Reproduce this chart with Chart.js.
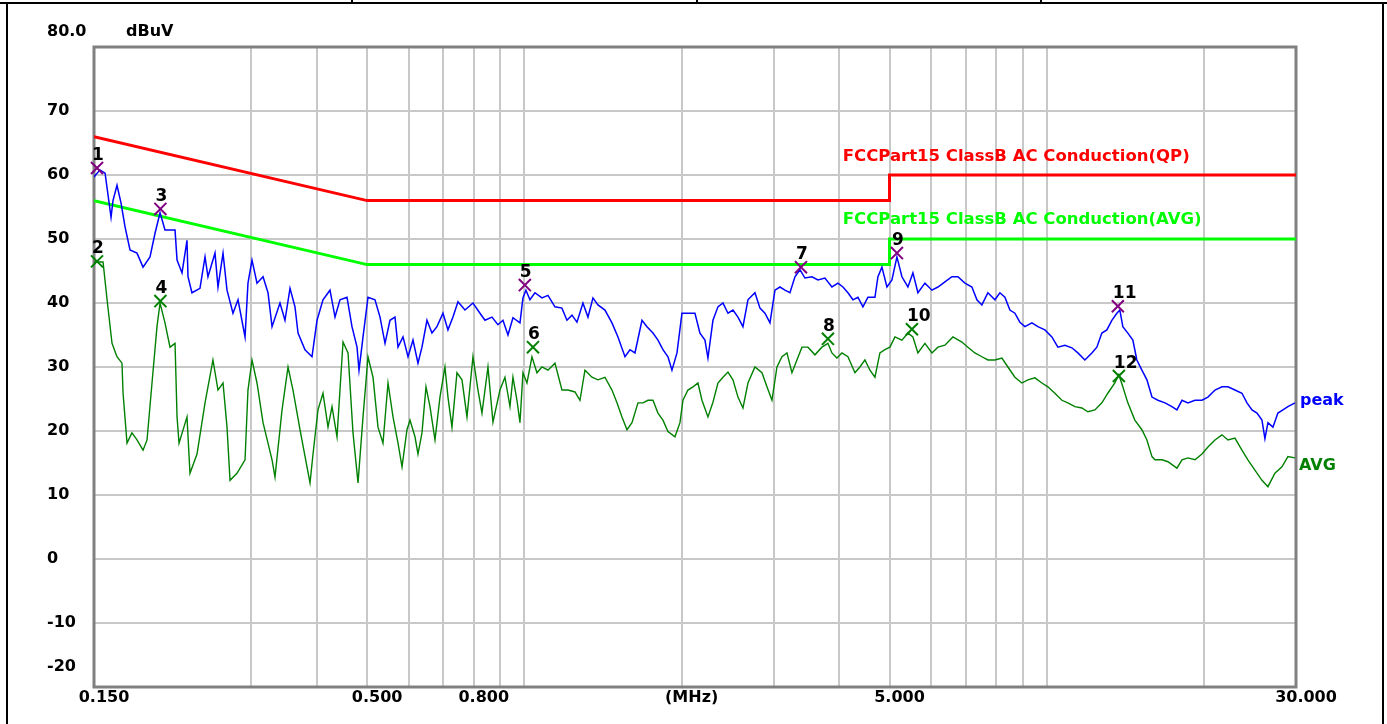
<!DOCTYPE html>
<html><head><meta charset="utf-8">
<script src="https://cdn.jsdelivr.net/npm/chart.js@4.4.1/dist/chart.umd.min.js"></script>
<style>
html,body{margin:0;padding:0;background:#fff;width:1387px;height:724px;overflow:hidden;}
#wrap{position:relative;width:1387px;height:724px;}
canvas{position:absolute;left:0;top:0;}
.ln{position:absolute;background:#000;}
</style></head><body>
<div id="wrap">
<canvas id="c" width="1387" height="724"></canvas>
<div class="ln" style="left:0;top:2px;width:1387px;height:2px"></div>
<div class="ln" style="left:6px;top:2px;width:2px;height:722px"></div>
<div class="ln" style="left:1382px;top:2px;width:2px;height:722px"></div>
<div class="ln" style="left:351px;top:0;width:2px;height:3px"></div>
<div class="ln" style="left:696px;top:0;width:2px;height:3px"></div>
<div class="ln" style="left:1040px;top:0;width:2px;height:3px"></div>
</div>
<script>
// ---------------- data ----------------
const peakFreq = [0.150,0.1540,0.1575,0.1617,0.1631,0.1660,0.1690,0.1720,0.1758,0.1813,
0.1862,0.1920,0.1963,0.2007,0.2051,0.2144,0.2163,0.2211,0.2260,0.2270,
0.2310,0.2393,0.2447,0.2479,0.2557,0.2591,0.2649,0.2696,0.2768,0.2830,
0.2919,0.2957,0.3010,0.3077,0.3160,0.3230,0.3288,0.3405,0.3481,0.3559,
0.3638,0.3687,0.3802,0.3921,0.4009,0.4116,0.4245,0.4340,0.4436,0.4575,
0.4677,0.4782,0.4824,0.4910,0.5019,0.5176,0.5292,0.5410,0.5530,0.5653,
0.5729,0.5856,0.5987,0.6120,0.6256,0.6367,0.6509,0.6654,0.6802,0.6985,
0.7140,0.7299,0.7462,0.7696,0.7972,0.8222,0.8405,0.8668,0.8900,0.9099,
0.9302,0.9509,0.9807,0.9937,1.0069,1.0248,1.0476,1.0805,1.1095,1.1442,
1.1801,1.2064,1.2333,1.2608,1.2945,1.3234,1.3529,1.3830,1.4264,1.4711,
1.5106,1.5580,1.5927,1.6281,1.6792,1.7166,1.7625,1.8018,1.8419,1.8830,
1.9165,1.9593,2.0029,2.0565,2.1209,2.1682,2.2164,2.2459,2.2960,2.3472,
2.3995,2.4530,2.5076,2.5635,2.6207,2.6791,2.7630,2.8247,2.8876,2.9520,
3.0177,3.0849,3.1536,3.2238,3.2956,3.3690,3.4440,3.5519,3.6470,3.7613,
3.8791,3.9831,4.0719,4.1627,4.2554,4.3502,4.4472,4.5464,4.6888,4.7512,
4.8357,4.9433,5.0534,5.1660,5.2811,5.4227,5.5435,5.6669,5.8445,6.0277,
6.1892,6.3831,6.5831,6.7593,6.9712,7.1895,7.3497,7.5133,7.7145,7.9564,
8.1337,8.3150,8.5003,8.6895,8.8830,9.0809,9.3654,9.6162,9.9175,10.228,
10.502,10.831,11.171,11.470,11.829,12.200,12.471,12.749,13.033,13.323,
13.620,13.801,13.984,14.296,14.615,14.875,15.21,15.55,15.90,16.32,
16.84,17.36,17.75,18.15,18.63,19.22,19.82,20.35,20.99,21.65,
22.23,22.92,23.64,24.17,24.71,25.26,25.82,26.16,26.51,27.10,
27.70,28.32,28.95,29.86];
const peakVal = [59.7,60.8,60.3,53.4,56.0,58.4,55.6,51.9,48.3,47.8,
45.6,47.2,50.9,54.1,51.4,51.4,46.7,44.7,49.8,44.1,
41.6,42.3,47.2,44.1,47.8,42.5,47.8,42.0,38.4,40.5,
34.7,43.1,46.7,43.1,44.1,41.6,36.3,40.0,37.3,42.3,
39.4,35.3,32.7,31.6,37.3,40.5,42.0,37.8,40.5,40.9,
36.3,33.1,29.5,34.7,40.9,40.5,37.8,33.7,37.3,37.8,
33.1,34.7,31.6,34.2,30.6,33.1,37.3,35.3,36.3,38.4,
35.8,37.8,40.2,38.9,40.0,38.4,37.3,37.8,36.6,37.3,
35.0,37.7,36.9,40.8,42.0,40.5,41.6,40.8,41.2,39.4,
39.2,37.3,38.1,37.0,40.0,37.8,40.8,39.7,38.9,36.9,
34.7,31.6,32.7,32.2,37.3,36.3,35.3,34.2,32.7,31.6,
29.5,32.2,38.4,38.4,38.4,35.3,34.2,31.4,37.3,39.4,
40.0,38.4,38.9,37.8,36.3,40.5,41.6,39.2,38.4,36.9,
42.0,42.5,42.0,41.6,44.1,45.2,43.9,44.1,43.6,43.9,
42.5,43.1,42.5,41.6,40.5,40.9,39.4,40.9,40.9,44.1,
45.6,42.5,43.6,47.2,44.1,42.5,44.7,41.6,43.1,42.0,
42.5,43.3,44.1,44.1,43.1,42.5,40.5,39.7,41.6,40.5,
41.6,40.9,38.9,38.4,37.0,36.3,36.9,36.3,35.8,34.7,
33.1,33.4,33.0,32.2,31.1,32.2,33.1,35.3,35.8,37.3,
38.4,38.9,36.3,35.3,34.2,31.1,29.5,28.0,25.3,24.8,
24.4,23.8,23.3,24.8,24.4,24.8,24.8,25.3,26.4,26.9,
26.9,26.4,25.9,24.4,23.3,22.8,21.7,18.8,21.3,20.6,
22.8,23.3,23.8,24.4];

const avgFreq = [0.150,0.1561,0.1589,0.1624,0.1660,0.1697,0.1705,0.1735,0.1773,0.1813,
0.1862,0.1895,0.1937,0.1980,0.2007,0.2051,0.2097,0.2144,0.2163,0.2182,
0.2260,0.2290,0.2362,0.2447,0.2534,0.2591,0.2649,0.2696,0.2732,0.2817,
0.2919,0.2957,0.3010,0.3077,0.3160,0.3288,0.3331,0.3436,0.3528,0.3606,
0.3719,0.3887,0.3939,0.4026,0.4116,0.4208,0.4283,0.4378,0.4496,0.4596,
0.4698,0.4803,0.4910,0.5019,0.5131,0.5245,0.5362,0.5482,0.5604,0.5729,
0.5831,0.5960,0.6040,0.6174,0.6256,0.6367,0.6481,0.6596,0.6743,0.6893,
0.7046,0.7140,0.7267,0.7429,0.7595,0.7764,0.7972,0.8150,0.8295,0.8517,
0.8706,0.8979,0.9179,0.9384,0.9509,0.9678,0.9807,0.9937,1.0114,1.0339,
1.0569,1.0805,1.1095,1.1442,1.1801,1.2117,1.2497,1.2776,1.3060,1.3469,
1.3830,1.4264,1.4711,1.5040,1.5375,1.5718,1.6068,1.6498,1.6866,1.7241,
1.7625,1.8018,1.8419,1.8830,1.9419,1.9853,2.0117,2.0565,2.1023,2.1492,
2.1874,2.2459,2.2960,2.3472,2.3995,2.4530,2.5076,2.5635,2.6207,2.6791,
2.7630,2.8497,2.9131,2.9781,3.0444,3.1122,3.1815,3.2523,3.3247,3.3988,
3.4898,3.5991,3.7119,3.8113,3.8791,3.9655,4.0540,4.1627,4.2931,4.3888,
4.4866,4.5867,4.6888,4.7932,4.9000,5.0091,5.1207,5.2811,5.4227,5.5435,
5.6669,5.8445,6.0277,6.1892,6.3831,6.6121,6.8797,7.0639,7.2852,7.5133,
7.7145,7.9564,8.2058,8.4257,8.6895,8.9616,9.2016,9.4899,9.7873,10.050,
10.364,10.689,10.975,11.319,11.674,11.986,12.362,12.749,13.090,13.500,
13.740,13.984,14.296,14.744,15.21,15.55,15.90,16.11,16.62,17.06,
17.75,18.15,18.63,19.22,19.82,20.35,20.99,21.65,22.23,22.92,
23.64,24.27,25.03,25.82,26.51,27.34,28.20,28.95,29.86];
const avgVal = [46.4,46.4,40.5,33.7,31.6,30.6,25.9,18.1,19.7,18.6,
17.0,18.6,27.5,36.3,40.0,36.9,33.1,33.7,22.2,18.1,
22.2,13.4,16.4,24.4,31.1,26.4,27.5,20.6,12.3,13.4,
15.5,26.4,31.1,27.5,21.3,15.5,12.8,23.3,30.0,26.4,
20.2,11.9,16.4,23.3,25.9,20.6,23.8,19.1,33.9,32.2,
19.7,11.9,22.2,31.6,28.4,20.6,18.1,27.5,22.2,18.1,
14.4,20.2,21.7,19.1,16.4,19.7,26.9,23.8,18.6,25.3,
30.0,25.3,20.6,29.1,28.0,22.2,31.6,26.4,22.8,30.0,
21.4,26.4,28.4,23.8,28.4,24.8,21.3,29.1,27.5,31.6,
29.1,30.0,29.5,30.6,26.4,26.4,26.1,24.8,29.5,28.4,
28.0,28.4,26.4,24.4,22.2,20.2,21.3,24.4,24.4,24.8,
24.8,22.8,21.7,19.9,19.1,21.3,24.8,26.4,26.9,27.5,
24.8,22.2,24.5,27.5,28.4,29.2,28.0,25.3,23.6,27.5,
30.0,29.1,26.9,24.8,30.0,31.6,32.2,29.1,31.1,33.1,
33.1,31.9,33.1,33.7,32.2,31.4,32.2,31.6,29.1,30.0,
31.1,29.5,28.4,32.2,32.7,33.1,34.7,34.2,35.3,34.7,
32.2,33.7,32.2,33.1,33.4,34.7,33.9,33.1,32.2,31.6,
31.1,31.1,31.4,30.0,28.4,27.5,28.0,28.3,27.5,26.9,
25.9,24.8,24.4,23.8,23.6,23.0,23.3,24.4,25.9,27.5,
28.8,26.9,24.4,21.7,20.2,18.6,16.0,15.5,15.5,15.2,
14.2,15.5,15.8,15.5,16.4,17.5,18.6,19.4,18.6,18.9,
17.0,15.5,13.9,12.3,11.3,13.4,14.4,16.0,15.8];

const qpLimitFreq = [0.15, 0.5, 5, 5, 30];
const qpLimitVal  = [66, 56, 56, 60, 60];
const avgLimitFreq = [0.15, 0.5, 5, 5, 30];
const avgLimitVal  = [56, 46, 46, 50, 50];

const markerNo   = [1, 2, 3, 4, 5, 6, 7, 8, 9, 10, 11, 12];
const markerFreq = [0.152, 0.152, 0.201, 0.201, 1.002, 1.0385, 3.384, 3.811, 5.166, 5.519, 13.68, 13.74];
const markerVal  = [61.1, 46.5, 54.7, 40.3, 42.8, 33.1, 45.6, 34.4, 47.8, 35.9, 39.5, 28.6];

const xGridVals = [0.3,0.4,0.5,0.6,0.7,0.8,0.9,1,2,3,4,5,6,7,8,9,10,20];
const xLabelVals = [0.15, 0.5, 0.8, 2, 5, 30];
const xLabelTexts = ['0.150', '0.500', '0.800', '(MHz)', '5.000', '30.000'];
const yTickVals = [80, 70, 60, 50, 40, 30, 20, 10, 0, -10, -20];
const yTickTexts = ['80.0', '70', '60', '50', '40', '30', '20', '10', '0', '-10', '-20'];

const limitTexts = ['FCCPart15 ClassB AC Conduction(QP)', 'FCCPart15 ClassB AC Conduction(AVG)'];
const traceNames = ['peak', 'AVG'];
const unitText = 'dBuV';

// --------------- build ---------------
const zip = (xs, ys) => xs.map((x, i) => ({x: x, y: ys[i]}));
const FONT = 'DejaVu Sans';
// edge labels of the y axis sit slightly inside the frame in the original
const yLabelShift = {80: 2.4, '-20': 3.2};
const yTickPositions = yTickVals.map(v => v + (yLabelShift[v] || 0));
const xTickAll = Array.from(new Set([...xLabelVals, ...xGridVals])).sort((a, b) => a - b);

const markerColors = markerNo.map(n => n % 2 ? '#800080' : '#008000');

const framePlugin = {
  id: 'frame',
  beforeDatasetsDraw(chart) {
    const {ctx, chartArea: a} = chart;
    ctx.save();
    ctx.strokeStyle = '#808080';
    ctx.lineWidth = 3;
    ctx.strokeRect(a.left, a.top, a.right - a.left, a.bottom - a.top);
    ctx.restore();
  }
};

const textPlugin = {
  id: 'texts',
  afterDatasetsDraw(chart) {
    const {ctx, chartArea: a} = chart;
    const xs = chart.scales.x, ys = chart.scales.y;
    ctx.save();
    ctx.textBaseline = 'alphabetic';
    ctx.textAlign = 'left';
    // marker numbers
    ctx.fillStyle = '#000';
    ctx.font = 'bold 17px "' + FONT + '"';
    const meta = chart.getDatasetMeta(0);
    meta.data.forEach((el, i) => {
      ctx.fillText(String(markerNo[i]), el.x - 5, el.y - 8);
    });
    // unit
    ctx.font = 'bold 16px "' + FONT + '"';
    ctx.fillText(unitText, a.left + 32, a.top - 11);
    // limit names
    ctx.font = 'bold 16.5px "' + FONT + '"';
    ctx.fillStyle = '#ff0000';
    ctx.fillText(limitTexts[0], xs.getPixelForValue(4.07), ys.getPixelForValue(62.2));
    ctx.fillStyle = '#00ff00';
    ctx.fillText(limitTexts[1], xs.getPixelForValue(4.07), ys.getPixelForValue(52.3));
    // trace names
    ctx.font = 'bold 16px "' + FONT + '"';
    ctx.fillStyle = '#0000ff';
    ctx.fillText(traceNames[0], a.right + 4, ys.getPixelForValue(24.1));
    ctx.fillStyle = '#008000';
    ctx.fillText(traceNames[1], a.right + 3, ys.getPixelForValue(13.9));
    ctx.restore();
  }
};

const tickFont = {family: FONT, weight: 'bold', size: 16};

new Chart(document.getElementById('c'), {
  type: 'scatter',
  data: {
    datasets: [
      {label: 'markers', data: zip(markerFreq, markerVal), showLine: false, pointStyle: 'crossRot',
       pointRadius: 8.5, pointBorderWidth: 2, pointBorderColor: markerColors, pointBackgroundColor: 'rgba(0,0,0,0)',
       clip: false, order: 0},
      {label: 'peak', data: zip(peakFreq, peakVal), showLine: true, borderColor: '#0000ff', borderWidth: 1.5,
       pointRadius: 0, tension: 0, order: 1},
      {label: 'AVG', data: zip(avgFreq, avgVal), showLine: true, borderColor: '#008000', borderWidth: 1.4,
       pointRadius: 0, tension: 0, order: 2},
      {label: 'QP limit', data: zip(qpLimitFreq, qpLimitVal), showLine: true, borderColor: '#ff0000', borderWidth: 3,
       pointRadius: 0, tension: 0, order: 3},
      {label: 'AVG limit', data: zip(avgLimitFreq, avgLimitVal), showLine: true, borderColor: '#00ff00', borderWidth: 3,
       pointRadius: 0, tension: 0, order: 4}
    ]
  },
  options: {
    responsive: false,
    animation: false,
    events: [],
    layout: {padding: {left: 47, top: 47, right: 91, bottom: 0}},
    plugins: {legend: {display: false}, tooltip: {enabled: false}},
    scales: {
      x: {
        type: 'logarithmic', min: 0.15, max: 30, position: 'bottom',
        afterBuildTicks: s => { s.ticks = xTickAll.map(v => ({value: v})); },
        afterFit: s => { s.height = 37; s.paddingLeft = 0; s.paddingRight = 0; },
        grid: {
          color: c => (c.tick && xGridVals.includes(c.tick.value)) ? '#c8c8c8' : 'rgba(0,0,0,0)',
          lineWidth: 2, drawTicks: false
        },
        border: {display: false},
        ticks: {
          autoSkip: false, maxRotation: 0, minRotation: 0, padding: 1, labelOffset: 10,
          color: '#000', font: tickFont,
          callback: v => { const i = xLabelVals.indexOf(v); return i >= 0 ? xLabelTexts[i] : ''; }
        }
      },
      y: {
        type: 'linear', min: -20, max: 80,
        afterBuildTicks: s => {
          const vals = new Set([...yTickPositions, ...yTickVals.filter(v => v > -20 && v < 80)]);
          s.ticks = Array.from(vals).sort((a, b) => a - b).map(v => ({value: v}));
        },
        afterFit: s => { s.width = 47; s.paddingTop = 0; s.paddingBottom = 0; },
        grid: {
          color: c => (c.tick && yTickVals.includes(c.tick.value)) ? '#c8c8c8' : 'rgba(0,0,0,0)',
          lineWidth: 2, drawTicks: false
        },
        border: {display: false},
        ticks: {
          autoSkip: false, crossAlign: 'far', color: '#000', font: tickFont,
          callback: v => { const i = yTickPositions.indexOf(v); return i >= 0 ? yTickTexts[i] : ''; }
        }
      }
    }
  },
  plugins: [framePlugin, textPlugin]
});
</script>
</body></html>
